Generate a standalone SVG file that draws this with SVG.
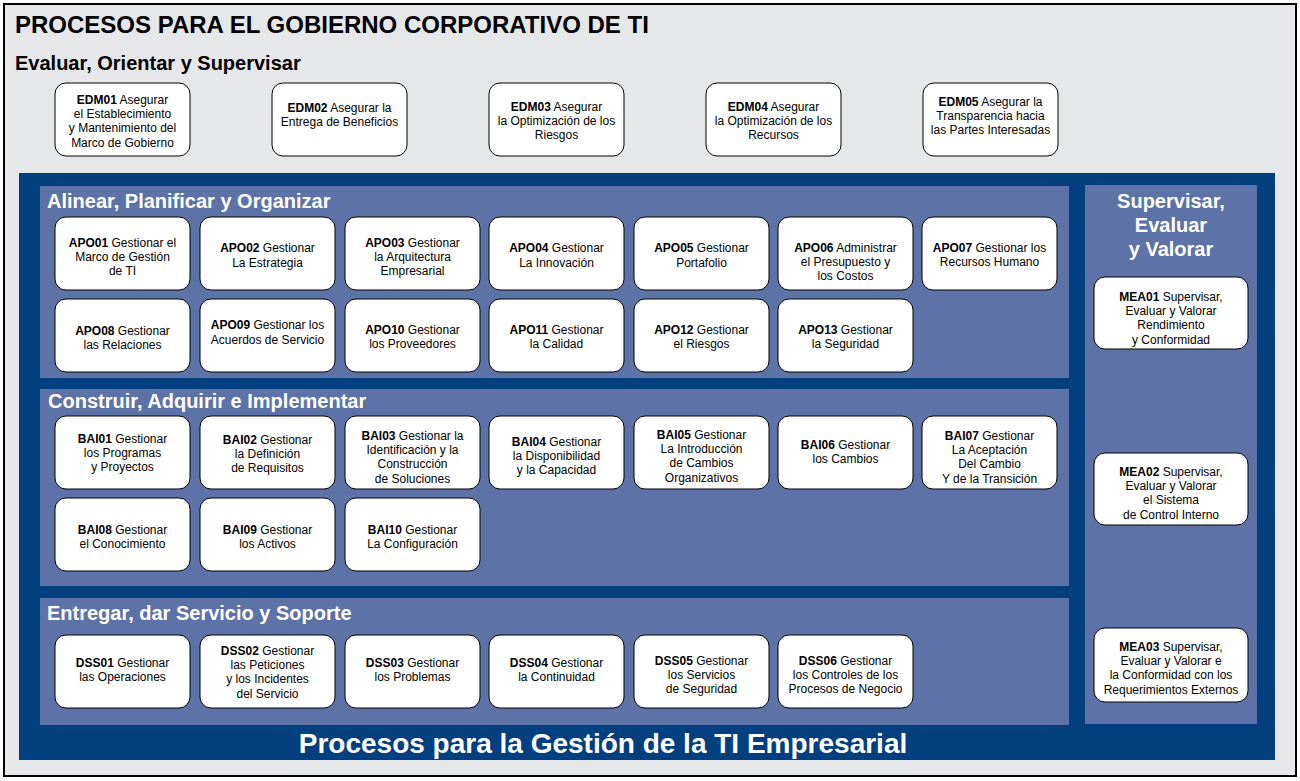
<svg xmlns="http://www.w3.org/2000/svg" width="1300" height="781" viewBox="0 0 1300 781">
<style>
.frame{fill:#e6e7e9;stroke:#000;stroke-width:2}
.core{fill:#023f7e}
.panel{fill:#5d72a7}
.box{fill:#fff;stroke:#000;stroke-width:1}
.t{font-family:"Liberation Sans",Arial,sans-serif;font-size:12px;fill:#000;text-anchor:middle}
.b{font-weight:bold}
.h1{font-family:"Liberation Sans",Arial,sans-serif;font-size:24px;font-weight:bold;fill:#000}
.h2{font-family:"Liberation Sans",Arial,sans-serif;font-size:20px;font-weight:bold;fill:#000}
.hw{font-family:"Liberation Sans",Arial,sans-serif;font-size:20px;font-weight:bold;fill:#fff}
.foot{font-family:"Liberation Sans",Arial,sans-serif;font-size:28px;font-weight:bold;fill:#fff;text-anchor:middle}
</style>
<rect class="frame" x="4" y="4" width="1292" height="772"/>
<text class="h1" x="15" y="33">PROCESOS PARA EL GOBIERNO CORPORATIVO DE TI</text>
<text class="h2" x="15" y="70">Evaluar, Orientar y Supervisar</text>

<g id="EDM01"><rect class="box" x="55" y="83" width="135" height="73" rx="11"/><text class="t"><tspan x="122.5" y="104"><tspan class="b">EDM01</tspan> Asegurar</tspan><tspan x="122.5" y="118">el Establecimiento</tspan><tspan x="122.5" y="132">y Mantenimiento del</tspan><tspan x="122.5" y="147">Marco de Gobierno</tspan></text></g>
<g id="EDM02"><rect class="box" x="272" y="83" width="135" height="73" rx="11"/><text class="t"><tspan x="339.5" y="112"><tspan class="b">EDM02</tspan> Asegurar la</tspan><tspan x="339.5" y="126">Entrega de Beneficios</tspan></text></g>
<g id="EDM03"><rect class="box" x="489" y="83" width="135" height="73" rx="11"/><text class="t"><tspan x="556.5" y="111"><tspan class="b">EDM03</tspan> Asegurar</tspan><tspan x="556.5" y="125">la Optimización de los</tspan><tspan x="556.5" y="139">Riesgos</tspan></text></g>
<g id="EDM04"><rect class="box" x="706" y="83" width="135" height="73" rx="11"/><text class="t"><tspan x="773.5" y="111"><tspan class="b">EDM04</tspan> Asegurar</tspan><tspan x="773.5" y="125">la Optimización de los</tspan><tspan x="773.5" y="139">Recursos</tspan></text></g>
<g id="EDM05"><rect class="box" x="923" y="83" width="135" height="73" rx="11"/><text class="t"><tspan x="990.5" y="106"><tspan class="b">EDM05</tspan> Asegurar la</tspan><tspan x="990.5" y="120">Transparencia hacia</tspan><tspan x="990.5" y="134">las Partes Interesadas</tspan></text></g>

<rect class="core" x="19" y="173" width="1256" height="587"/>
<rect class="panel" x="40" y="186" width="1029" height="192"/>
<rect class="panel" x="40" y="389" width="1029" height="197"/>
<rect class="panel" x="40" y="598" width="1029" height="127"/>
<rect class="panel" x="1085" y="185" width="172" height="539"/>
<text class="hw" x="47" y="208">Alinear, Planificar y Organizar</text>
<text class="hw" x="48" y="408">Construir, Adquirir e Implementar</text>
<text class="hw" x="47" y="620">Entregar, dar Servicio y Soporte</text>
<text class="hw" text-anchor="middle"><tspan x="1171" y="208">Supervisar,</tspan><tspan x="1171" y="232">Evaluar</tspan><tspan x="1171" y="256">y Valorar</tspan></text>
<text class="foot" x="603" y="753">Procesos para la Gestión de la TI Empresarial</text>

<g id="APO01"><rect class="box" x="55" y="217" width="135" height="73" rx="11"/><text class="t"><tspan x="122.5" y="247"><tspan class="b">APO01</tspan> Gestionar el</tspan><tspan x="122.5" y="261">Marco de Gestión</tspan><tspan x="122.5" y="275">de TI</tspan></text></g>
<g id="APO02"><rect class="box" x="200" y="217" width="135" height="73" rx="11"/><text class="t"><tspan x="267.5" y="252"><tspan class="b">APO02</tspan> Gestionar</tspan><tspan x="267.5" y="267">La Estrategia</tspan></text></g>
<g id="APO03"><rect class="box" x="345" y="217" width="135" height="73" rx="11"/><text class="t"><tspan x="412.5" y="247"><tspan class="b">APO03</tspan> Gestionar</tspan><tspan x="412.5" y="261">la Arquitectura</tspan><tspan x="412.5" y="275">Empresarial</tspan></text></g>
<g id="APO04"><rect class="box" x="489" y="217" width="135" height="73" rx="11"/><text class="t"><tspan x="556.5" y="252"><tspan class="b">APO04</tspan> Gestionar</tspan><tspan x="556.5" y="267">La Innovación</tspan></text></g>
<g id="APO05"><rect class="box" x="634" y="217" width="135" height="73" rx="11"/><text class="t"><tspan x="701.5" y="252"><tspan class="b">APO05</tspan> Gestionar</tspan><tspan x="701.5" y="267">Portafolio</tspan></text></g>
<g id="APO06"><rect class="box" x="778" y="217" width="135" height="73" rx="11"/><text class="t"><tspan x="845.5" y="252"><tspan class="b">APO06</tspan> Administrar</tspan><tspan x="845.5" y="266">el Presupuesto y</tspan><tspan x="845.5" y="280">los Costos</tspan></text></g>
<g id="APO07"><rect class="box" x="922" y="217" width="135" height="73" rx="11"/><text class="t"><tspan x="989.5" y="252"><tspan class="b">APO07</tspan> Gestionar los</tspan><tspan x="989.5" y="266">Recursos Humano</tspan></text></g>
<g id="APO08"><rect class="box" x="55" y="299" width="135" height="73" rx="11"/><text class="t"><tspan x="122.5" y="335"><tspan class="b">APO08</tspan> Gestionar</tspan><tspan x="122.5" y="349">las Relaciones</tspan></text></g>
<g id="APO09"><rect class="box" x="200" y="299" width="135" height="73" rx="11"/><text class="t"><tspan x="267.5" y="329"><tspan class="b">APO09</tspan> Gestionar los</tspan><tspan x="267.5" y="344">Acuerdos de Servicio</tspan></text></g>
<g id="APO10"><rect class="box" x="345" y="299" width="135" height="73" rx="11"/><text class="t"><tspan x="412.5" y="334"><tspan class="b">APO10</tspan> Gestionar</tspan><tspan x="412.5" y="348">los Proveedores</tspan></text></g>
<g id="APO11"><rect class="box" x="489" y="299" width="135" height="73" rx="11"/><text class="t"><tspan x="556.5" y="334"><tspan class="b">APO11</tspan> Gestionar</tspan><tspan x="556.5" y="348">la Calidad</tspan></text></g>
<g id="APO12"><rect class="box" x="634" y="299" width="135" height="73" rx="11"/><text class="t"><tspan x="701.5" y="334"><tspan class="b">APO12</tspan> Gestionar</tspan><tspan x="701.5" y="348">el Riesgos</tspan></text></g>
<g id="APO13"><rect class="box" x="778" y="299" width="135" height="73" rx="11"/><text class="t"><tspan x="845.5" y="334"><tspan class="b">APO13</tspan> Gestionar</tspan><tspan x="845.5" y="348">la Seguridad</tspan></text></g>

<g id="BAI01"><rect class="box" x="55" y="416" width="135" height="73" rx="11"/><text class="t"><tspan x="122.5" y="443"><tspan class="b">BAI01</tspan> Gestionar</tspan><tspan x="122.5" y="457">los Programas</tspan><tspan x="122.5" y="471">y Proyectos</tspan></text></g>
<g id="BAI02"><rect class="box" x="200" y="416" width="135" height="73" rx="11"/><text class="t"><tspan x="267.5" y="444"><tspan class="b">BAI02</tspan> Gestionar</tspan><tspan x="267.5" y="458">la Definición</tspan><tspan x="267.5" y="472">de Requisitos</tspan></text></g>
<g id="BAI03"><rect class="box" x="345" y="416" width="135" height="73" rx="11"/><text class="t"><tspan x="412.5" y="440"><tspan class="b">BAI03</tspan> Gestionar la</tspan><tspan x="412.5" y="454">Identificación y la</tspan><tspan x="412.5" y="468">Construcción</tspan><tspan x="412.5" y="483">de Soluciones</tspan></text></g>
<g id="BAI04"><rect class="box" x="489" y="416" width="135" height="73" rx="11"/><text class="t"><tspan x="556.5" y="446"><tspan class="b">BAI04</tspan> Gestionar</tspan><tspan x="556.5" y="460">la Disponibilidad</tspan><tspan x="556.5" y="474">y la Capacidad</tspan></text></g>
<g id="BAI05"><rect class="box" x="634" y="416" width="135" height="73" rx="11"/><text class="t"><tspan x="701.5" y="439"><tspan class="b">BAI05</tspan> Gestionar</tspan><tspan x="701.5" y="453">La Introducción</tspan><tspan x="701.5" y="467">de Cambios</tspan><tspan x="701.5" y="482">Organizativos</tspan></text></g>
<g id="BAI06"><rect class="box" x="778" y="416" width="135" height="73" rx="11"/><text class="t"><tspan x="845.5" y="449"><tspan class="b">BAI06</tspan> Gestionar</tspan><tspan x="845.5" y="463">los Cambios</tspan></text></g>
<g id="BAI07"><rect class="box" x="922" y="416" width="135" height="73" rx="11"/><text class="t"><tspan x="989.5" y="440"><tspan class="b">BAI07</tspan> Gestionar</tspan><tspan x="989.5" y="454">La Aceptación</tspan><tspan x="989.5" y="468">Del Cambio</tspan><tspan x="989.5" y="483">Y de la Transición</tspan></text></g>
<g id="BAI08"><rect class="box" x="55" y="498" width="135" height="73" rx="11"/><text class="t"><tspan x="122.5" y="534"><tspan class="b">BAI08</tspan> Gestionar</tspan><tspan x="122.5" y="548">el Conocimiento</tspan></text></g>
<g id="BAI09"><rect class="box" x="200" y="498" width="135" height="73" rx="11"/><text class="t"><tspan x="267.5" y="534"><tspan class="b">BAI09</tspan> Gestionar</tspan><tspan x="267.5" y="548">los Activos</tspan></text></g>
<g id="BAI10"><rect class="box" x="345" y="498" width="135" height="73" rx="11"/><text class="t"><tspan x="412.5" y="534"><tspan class="b">BAI10</tspan> Gestionar</tspan><tspan x="412.5" y="548">La Configuración</tspan></text></g>

<g id="DSS01"><rect class="box" x="55" y="635" width="135" height="73" rx="11"/><text class="t"><tspan x="122.5" y="667"><tspan class="b">DSS01</tspan> Gestionar</tspan><tspan x="122.5" y="681">las Operaciones</tspan></text></g>
<g id="DSS02"><rect class="box" x="200" y="635" width="135" height="73" rx="11"/><text class="t"><tspan x="267.5" y="655"><tspan class="b">DSS02</tspan> Gestionar</tspan><tspan x="267.5" y="669">las Peticiones</tspan><tspan x="267.5" y="683">y los Incidentes</tspan><tspan x="267.5" y="698">del Servicio</tspan></text></g>
<g id="DSS03"><rect class="box" x="345" y="635" width="135" height="73" rx="11"/><text class="t"><tspan x="412.5" y="667"><tspan class="b">DSS03</tspan> Gestionar</tspan><tspan x="412.5" y="681">los Problemas</tspan></text></g>
<g id="DSS04"><rect class="box" x="489" y="635" width="135" height="73" rx="11"/><text class="t"><tspan x="556.5" y="667"><tspan class="b">DSS04</tspan> Gestionar</tspan><tspan x="556.5" y="681">la Continuidad</tspan></text></g>
<g id="DSS05"><rect class="box" x="634" y="635" width="135" height="73" rx="11"/><text class="t"><tspan x="701.5" y="665"><tspan class="b">DSS05</tspan> Gestionar</tspan><tspan x="701.5" y="679">los Servicios</tspan><tspan x="701.5" y="693">de Seguridad</tspan></text></g>
<g id="DSS06"><rect class="box" x="778" y="635" width="135" height="73" rx="11"/><text class="t"><tspan x="845.5" y="665"><tspan class="b">DSS06</tspan> Gestionar</tspan><tspan x="845.5" y="679">los Controles de los</tspan><tspan x="845.5" y="693">Procesos de Negocio</tspan></text></g>

<g id="MEA01"><rect class="box" x="1094" y="277" width="154" height="72" rx="11"/><text class="t"><tspan x="1171" y="301"><tspan class="b">MEA01</tspan> Supervisar,</tspan><tspan x="1171" y="315">Evaluar y Valorar</tspan><tspan x="1171" y="329">Rendimiento</tspan><tspan x="1171" y="344">y Conformidad</tspan></text></g>
<g id="MEA02"><rect class="box" x="1094" y="453" width="154" height="72" rx="11"/><text class="t"><tspan x="1171" y="476"><tspan class="b">MEA02</tspan> Supervisar,</tspan><tspan x="1171" y="490">Evaluar y Valorar</tspan><tspan x="1171" y="504">el Sistema</tspan><tspan x="1171" y="519">de Control Interno</tspan></text></g>
<g id="MEA03"><rect class="box" x="1094" y="628" width="154" height="74" rx="11"/><text class="t"><tspan x="1171" y="651"><tspan class="b">MEA03</tspan> Supervisar,</tspan><tspan x="1171" y="665">Evaluar y Valorar e</tspan><tspan x="1171" y="679">la Conformidad con los</tspan><tspan x="1171" y="694">Requerimientos Externos</tspan></text></g>

<g id="connectors"></g>
</svg>
